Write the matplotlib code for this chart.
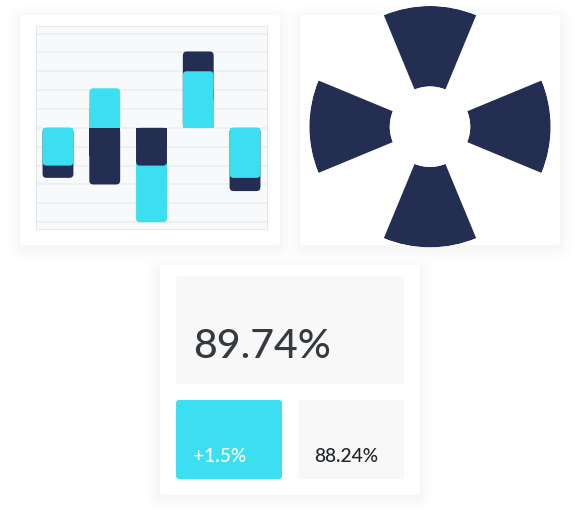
import matplotlib
matplotlib.use('Agg')
import matplotlib.pyplot as plt
from matplotlib.patches import FancyBboxPatch
import numpy as np

plt.rcParams['font.family'] = ['Lato', 'DejaVu Sans']

# data
categories = ['A', 'B', 'C', 'D', 'E']
navy_vals = [-2.65, -3.0, -2.0, 4.05, -3.35]
cyan_vals = [-2.0, 2.1, -5.0, 3.0, -2.65]

rose_angles = [0, 90, 180, 270]   # degrees
rose_vals = [10, 10, 10, 10]

kpi_main = '89.74%'
kpi_change = '+1.5%'
kpi_prev = '88.24%'

CYAN = '#3cdff2'
NAVY = '#232e52'
W, H = 580, 525

fig = plt.figure(figsize=(W / 100, H / 100), dpi=100)
fig.patch.set_facecolor('white')

# background layer in pixel coordinates
bg = fig.add_axes([0, 0, 1, 1])
bg.set_xlim(0, W)
bg.set_ylim(H, 0)
bg.axis('off')


def card(x0, y0, x1, y1):
    # soft shadow then white card
    for i, a in enumerate([0.010, 0.008, 0.006, 0.005, 0.004]):
        p = 2 + i * 3
        bg.add_patch(FancyBboxPatch((x0 - p, y0 - p + 3), x1 - x0 + 2 * p, y1 - y0 + 2 * p,
                                    boxstyle='round,pad=0,rounding_size=%d' % (4 + p),
                                    fc='#1c2540', ec='none', alpha=a, zorder=0))
    bg.add_patch(FancyBboxPatch((x0, y0), x1 - x0, y1 - y0,
                                boxstyle='round,pad=0,rounding_size=3',
                                fc='white', ec='none', zorder=1))


def box(x0, y0, x1, y1, color):
    bg.add_patch(FancyBboxPatch((x0, y0), x1 - x0, y1 - y0,
                                boxstyle='round,pad=0,rounding_size=3',
                                fc=color, ec='none', zorder=2))


card(20, 15, 280, 245)
card(300, 15, 560, 245)
card(160, 265, 420, 495)

# KPI card
box(176, 276, 404, 384, '#f8f8f8')
box(176, 400, 282, 479, CYAN)
box(298, 400, 404, 479, '#f8f8f8')
bg.text(193, 358, kpi_main, fontsize=29.5, fontweight='medium', color='#343a40',
        va='baseline', ha='left', zorder=3)
bg.text(193, 462, kpi_change, fontsize=13.8, fontweight='medium', color='white',
        va='baseline', ha='left', zorder=3)
bg.text(314, 462, kpi_prev, fontsize=13.8, fontweight='medium', color='#212529',
        va='baseline', ha='left', zorder=3)

# bar chart
ax = fig.add_axes([36 / W, 1 - 229 / H, 231 / W, 203 / H])
ax.set_facecolor('#f8f9fa')
x = np.arange(len(categories))
bw = 0.66
xlo, xhi, ylo, yhi = -0.47, 4.47, -5.36, 5.4
ax.set_xlim(xlo, xhi)
ax.set_ylim(ylo, yhi)
for g in range(-5, 6):
    ax.axhline(g, color='#eceef0', lw=1.3, zorder=0)
ax.set_xticks([])
ax.set_yticks([])
for s in ax.spines.values():
    s.set_color('#e4e7ea')
    s.set_linewidth(0.8)

xpp = (xhi - xlo) / 231.0
ypp = (yhi - ylo) / 203.0
rad = 4 * xpp

navy_bars = ax.bar(x, navy_vals, width=bw, color=NAVY)
cyan_bars = ax.bar(x, cyan_vals, width=bw, color=CYAN)

for i in range(len(categories)):
    pair = [(navy_bars[i], navy_vals[i], NAVY), (cyan_bars[i], cyan_vals[i], CYAN)]
    pair.sort(key=lambda t: -abs(t[1]))
    for z, (rect, v, c) in enumerate(pair):
        bx, by = rect.get_x(), rect.get_y()
        bwid, bh = rect.get_width(), rect.get_height()
        lo, hi = min(by, by + bh), max(by, by + bh)
        rect.set_zorder(2 + z)
        ax.add_patch(FancyBboxPatch((bx, lo), bwid, hi - lo,
                                    boxstyle='round,pad=0,rounding_size=%f' % rad,
                                    mutation_aspect=ypp / xpp,
                                    fc=c, ec='none', zorder=2 + z))
        # keep the end at zero square
        half = (hi - lo) / 2.0
        rect.set_height(half)
        rect.set_y(0 if bh > 0 else -half)

# rose chart
r_out = 120.7
cx, cy = 430, 126.7
pax = fig.add_axes([(cx - r_out) / W, 1 - (cy + r_out) / H, 2 * r_out / W, 2 * r_out / H],
                   projection='polar')
pax.bar(np.deg2rad(rose_angles), rose_vals, width=np.pi / 4, bottom=0,
        color=NAVY, edgecolor='none', align='center')
pax.set_ylim(0, 10)
pax.set_rorigin(-5)
pax.axis('off')

fig.savefig('out.png', dpi=100)
